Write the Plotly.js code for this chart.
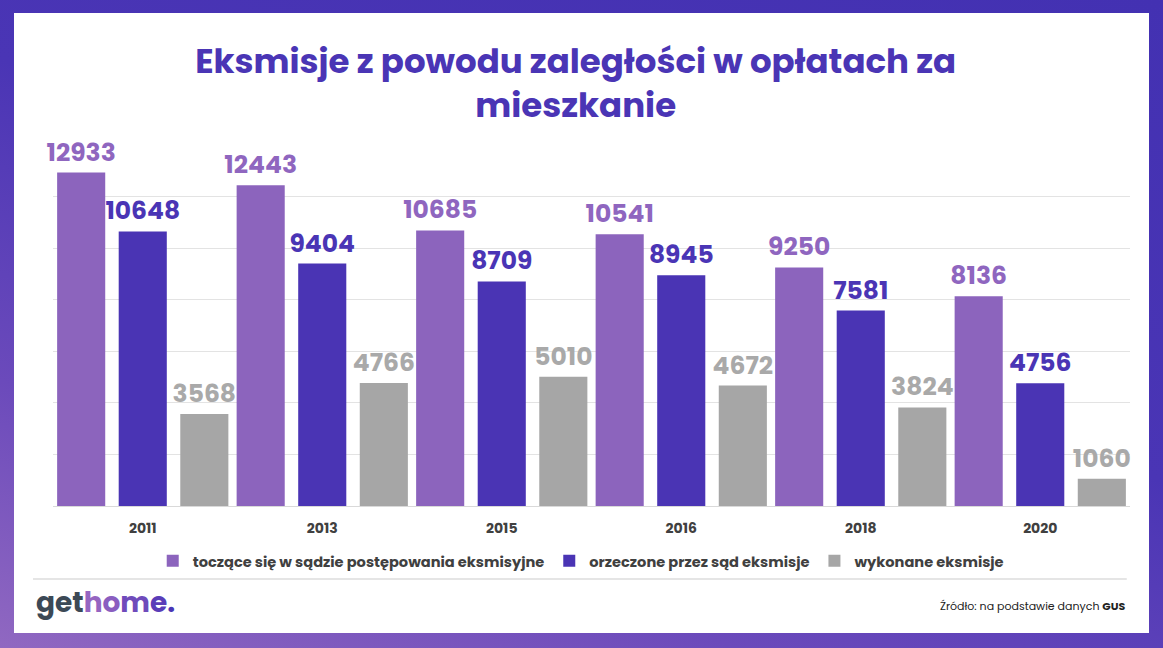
<!DOCTYPE html>
<html>
<head>
<meta charset="utf-8">
<script src="https://cdn.plot.ly/plotly-3.0.1.min.js"></script>
<style>
  html, body { margin:0; padding:0; }
  body { width:1163px; height:648px; overflow:hidden; position:relative;
         background: linear-gradient(200deg, #4331b2 0%, #4a35b5 45%, #6b4abb 75%, #9068c1 100%); }
  #card { position:absolute; left:14px; top:13px; width:1135px; height:620px; background:#ffffff; }
  #chart { position:absolute; left:0; top:0; width:1163px; height:648px; }
</style>
</head>
<body>
<div id="card"></div>
<div id="chart"></div>
<script>
const years = ['2011', '2013', '2015', '2016', '2018', '2020'];
const pending = [12933, 12443, 10685, 10541, 9250, 8136];
const ruled = [10648, 9404, 8709, 8945, 7581, 4756];
const executed = [3568, 4766, 5010, 4672, 3824, 1060];
const seriesNames = ['toczące się w sądzie postępowania eksmisyjne', 'orzeczone przez sąd eksmisje', 'wykonane eksmisje'];

const FONT = 'Poppins, Inter, Roboto, "Open Sans", sans-serif';
const colors = ['#8c64bd', '#4a34b4', '#a6a6a6'];
const labelColors = ['#8f66bf', '#4a35b5', '#a9a9a9'];
const offsets = [-0.477, -0.134, 0.209];
const data = [pending, ruled, executed].map((vals, i) => ({
  type: 'bar',
  name: seriesNames[i],
  x: years,
  y: vals,
  width: 0.268,
  offset: offsets[i],
  marker: { color: colors[i] },
  text: vals.map(v => String(v)),
  textposition: 'outside',
  constraintext: 'none',
  cliponaxis: false,
  outsidetextfont: { family: FONT, size: 25, color: labelColors[i], weight: 'bold' },
  hoverinfo: 'x+y+name'
}));

const layout = {
  width: 1163, height: 648,
  margin: { l: 53, r: 33, t: 145, b: 142 },
  paper_bgcolor: 'rgba(0,0,0,0)',
  plot_bgcolor: 'rgba(0,0,0,0)',
  barmode: 'overlay',
  font: { family: FONT, color: '#444444' },
  title: {
    text: 'Eksmisje z powodu zaległości w opłatach za<br>mieszkanie',
    font: { family: FONT, size: 34, color: '#4a35b5', weight: 'bold' },
    x: 0.495, xanchor: 'center', xref: 'container',
    y: 0.888, yanchor: 'top', yref: 'container'
  },
  xaxis: {
    type: 'category',
    showgrid: false,
    showline: true, linecolor: '#d9d9d9', linewidth: 1,
    ticks: '',
    ticklabelstandoff: 9,
    tickfont: { family: FONT, size: 14, color: '#404040', weight: 'bold' },
    fixedrange: true
  },
  yaxis: {
    range: [0, 14000],
    dtick: 2000,
    showgrid: true, gridcolor: '#e3e3e3', gridwidth: 1,
    zeroline: false,
    showticklabels: false,
    ticks: '',
    fixedrange: true
  },
  showlegend: true,
  legend: {
    orientation: 'h',
    x: 0.49, xanchor: 'center',
    y: -0.152, yanchor: 'middle',
    font: { family: FONT, size: 14.6, color: '#404040', weight: 'bold' },
    bgcolor: 'rgba(0,0,0,0)',
    traceorder: 'normal'
  },
  shapes: [
    { type: 'line', xref: 'paper', yref: 'paper', x0: -0.0186, x1: 0.997, y0: -0.202, y1: -0.202,
      line: { color: '#dddddd', width: 1.5 } }
  ],
  annotations: [
    {
      xref: 'paper', yref: 'paper', x: -0.0175, y: -0.268, xanchor: 'left', yanchor: 'middle',
      showarrow: false,
      text: '<span style="color:#3c4956">get</span><span style="color:#9565c1">h</span><span style="color:#8a5ec0">o</span><span style="color:#6f4bbb">m</span><span style="color:#5a3db8">e</span><span style="color:#4a35b5">.</span>',
      font: { family: FONT, size: 28, weight: 'bold' }
    },
    {
      xref: 'paper', yref: 'paper', x: 0.997, y: -0.277, xanchor: 'right', yanchor: 'middle',
      showarrow: false,
      text: 'Źródło: na podstawie danych <b>GUS</b>',
      font: { family: FONT, size: 11, color: '#222222' }
    }
  ]
};

Plotly.newPlot('chart', data, layout, { displayModeBar: false });
</script>
</body>
</html>
